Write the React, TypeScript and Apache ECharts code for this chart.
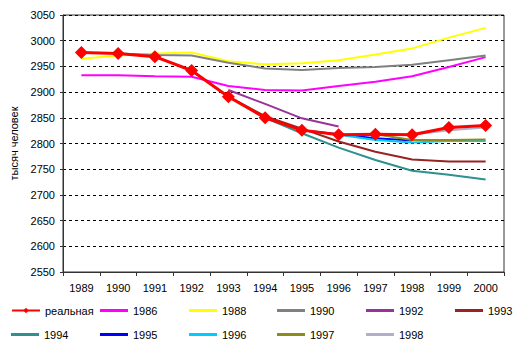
import React, { useEffect, useRef } from "react";
import * as echarts from "echarts";

const years = ["1989", "1990", "1991", "1992", "1993", "1994", "1995", "1996", "1997", "1998", "1999", "2000"];
const real = [2977, 2975, 2969, 2942, 2891, 2850, 2826, 2817, 2818, 2817, 2831, 2835];
const f1986 = [2933, 2933, 2931, 2930, 2912, 2904, 2903, 2912, 2920, 2931, 2949, 2968];
const f1988 = [2965, 2971, 2975, 2977, 2960, 2954, 2956, 2962, 2973, 2985, 3006, 3025];
const f1990 = [null, 2975, 2972, 2971, 2957, 2946, 2943, 2947, 2949, 2953, 2962, 2971];
const f1992 = [null, null, null, null, 2904, 2877, 2849, 2833, null, null, null, null];
const f1993 = [null, null, null, null, 2891, 2853, 2829, 2804, 2784, 2769, 2765, 2765];
const f1994 = [null, null, null, null, null, 2850, 2820, 2792, 2768, 2747, 2739, 2730];
const f1995 = [null, null, null, null, null, null, 2826, 2818, 2810, 2806, null, null];
const f1996 = [null, null, null, null, null, null, null, 2817, 2807, 2802, 2805, 2805];
const f1997 = [null, null, null, null, null, null, null, null, 2818, 2807, 2807, 2808];
const f1998 = [null, null, null, null, null, null, null, null, null, 2817, 2826, 2831];

const seriesNames = ["реальная", "1986", "1988", "1990", "1992", "1993", "1994", "1995", "1996", "1997", "1998"];
const seriesData = [real, f1986, f1988, f1990, f1992, f1993, f1994, f1995, f1996, f1997, f1998];
const colors = ["#FF0000", "#FF00FF", "#FFFF00", "#808080", "#993399", "#992222", "#2E9090", "#0000FF", "#00CCFF", "#8C8C1A", "#B0B0CC"];

const legendLeft = [11, 100, 189, 277, 366, 455];
const legendTop = [305, 329];

export default function App() {
  const ref = useRef<HTMLDivElement>(null);
  useEffect(() => {
    if (!ref.current) return;
    const chart = echarts.init(ref.current, undefined, { renderer: "svg" });
    const font = "'Liberation Sans', Arial, sans-serif";
    const series: any[] = seriesNames.map((name, i) => {
      const isReal = i === 0;
      return {
        name,
        type: "line",
        data: seriesData[i],
        color: colors[i],
        symbol: isReal ? "diamond" : "none",
        symbolSize: isReal ? 13 : 0,
        showSymbol: isReal,
        connectNulls: false,
        z: isReal ? 10 : 2,
        lineStyle: { width: isReal ? 3 : 2, color: colors[i] },
        itemStyle: { color: colors[i] },
      };
    });
    const ordered = [...series.slice(1), series[0]];
    const legends = seriesNames.map((name, i) => {
      const isReal = i === 0;
      const base: any = {
        data: [name],
        left: legendLeft[i % 6],
        top: legendTop[Math.floor(i / 6)],
        orient: "horizontal",
        padding: 0,
        itemWidth: 28,
        itemHeight: isReal ? 7 : 3,
        itemGap: 0,
        textStyle: { fontFamily: font, fontSize: 11, color: "#000" },
        selectedMode: false,
      };
      if (!isReal) base.icon = "rect";
      return base;
    });
    chart.setOption({
      animation: false,
      backgroundColor: "#fff",
      textStyle: { fontFamily: font },
      grid: {
        left: 63,
        top: 15,
        right: 15,
        bottom: 82,
        show: true,
        borderColor: "#333",
        borderWidth: 1,
        backgroundColor: "transparent",
      },
      legend: legends,
      xAxis: {
        type: "category",
        data: years,
        boundaryGap: true,
        axisLine: { lineStyle: { color: "#333", width: 1 } },
        axisTick: { show: true, length: 4, alignWithLabel: false, lineStyle: { color: "#333" } },
        axisLabel: { color: "#000", fontSize: 11, fontFamily: font, margin: 10 },
        splitLine: { show: false },
      },
      yAxis: {
        type: "value",
        min: 2550,
        max: 3050,
        interval: 50,
        name: "тысяч человек",
        nameLocation: "middle",
        nameGap: 43,
        nameTextStyle: { color: "#000", fontSize: 11, fontFamily: font },
        axisLine: { show: true, lineStyle: { color: "#333", width: 1 } },
        axisTick: { show: true, length: 3, lineStyle: { color: "#333" } },
        axisLabel: { color: "#000", fontSize: 11, fontFamily: font, margin: 8, formatter: (v: number) => String(v) },
        splitLine: { show: true, lineStyle: { color: "#000", type: [3, 3], width: 1 } },
      },
      series: ordered,
    });
    return () => chart.dispose();
  }, []);
  return <div ref={ref} style={{ position: "fixed", left: 0, top: 0, width: 519, height: 354 }} />;
}
